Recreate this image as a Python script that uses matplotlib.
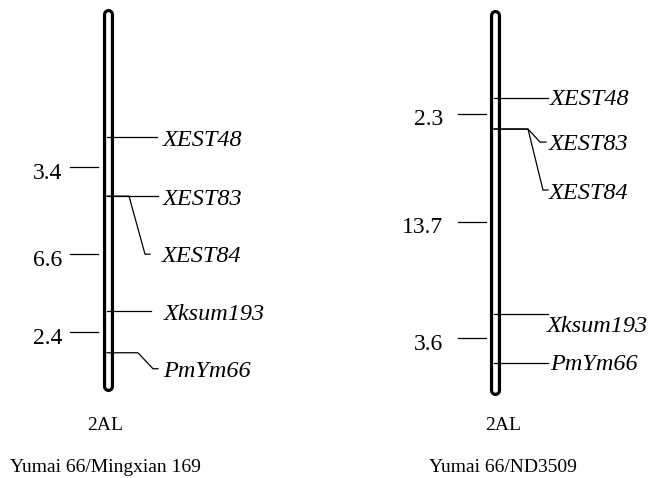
import matplotlib.pyplot as plt
import numpy as np

plt.rcParams['font.family'] = ['Liberation Serif', 'DejaVu Serif']

# linkage groups, marker order top -> bottom and intervals in cM
markers_1 = ['XEST48', 'XEST83', 'XEST84', 'Xksum193', 'PmYm66']
intervals_1 = [3.4, 0.0, 6.6, 2.4]
markers_2 = ['XEST48', 'XEST83', 'XEST84', 'Xksum193', 'PmYm66']
intervals_2 = [2.3, 0.0, 13.7, 3.6]
chrom_name = '2AL'
populations = ['Yumai 66/Mingxian 169', 'Yumai 66/ND3509']

W, H = 652, 478

# layout in pixels (x and offsets), scale = px per cM
layout_1 = dict(x0=0, origin=137, scale=17.4, cx=108, top_pad=123.5, bot_pad=33.7,
                tick=(70, 98), dist_x=62, dist_dy=7, cap_x=105,
                conn=[(157, 157, 157, 0, 163, 3),
                      (158, 158, 158, 0, 163, 3),
                      (129, 145, 150, 58, 162, 2),
                      (151, 151, 151, 0, 164, 3),
                      (138, 153, 158, 16, 163, 3)])
layout_2 = dict(x0=326, origin=98, scale=13.5, cx=495, top_pad=82.5, bot_pad=26.9,
                tick=(458, 486), dist_x=443, dist_dy=6, cap_x=503,
                conn=[(548, 548, 548, 0, 550, 2),
                      (528, 540, 546, 13, 549, 2),
                      (528, 543, 548, 61, 549, 3),
                      (548, 548, 548, 0, 547, 13),
                      (548, 548, 548, 0, 550, 2)])


def draw_map(ax, markers, intervals, lay, pop):
    pos = np.concatenate([[0.0], np.cumsum(intervals)])
    s = lay['scale']
    ax.set_xlim(lay['x0'], lay['x0'] + W / 2)
    ax.set_ylim((H - lay['origin']) / s, -lay['origin'] / s)
    ax.axis('off')

    # chromosome outline (black capsule with white core)
    cy = [pos[0] - lay['top_pad'] / s, pos[-1] + lay['bot_pad'] / s]
    cx = lay['cx']
    ax.plot([cx, cx], cy, color='black', lw=8.0, solid_capstyle='round')
    ax.plot([cx, cx], cy, color='white', lw=3.4, solid_capstyle='round')

    # markers on the right
    for name, y, (xb, xd, xe, ldy, lx, tdy) in zip(markers, pos, lay['conn']):
        ly = y + ldy / s
        ax.plot([cx - 1, xb, xd, xe], [y, y, ly, ly], color='black', lw=0.9)
        ax.text(lx, ly + tdy / s, name, style='italic', fontsize=17.5,
                ha='left', va='center')

    # interval distances on the left
    for a, b, d in zip(pos[:-1], pos[1:], intervals):
        if d == 0:
            continue
        m = (a + b) / 2
        ax.plot(lay['tick'], [m, m], color='black', lw=0.9)
        ax.text(lay['dist_x'], m + lay['dist_dy'] / s, f'{d:.1f}', fontsize=17,
                ha='right', va='center')

    fig.text(lay['cap_x'] / W, 1 - 425 / H, chrom_name, fontsize=14,
             ha='center', va='center')
    fig.text(lay['cap_x'] / W, 1 - 467 / H, pop, fontsize=14,
             ha='center', va='center')


fig = plt.figure(figsize=(W / 100, H / 100), dpi=100)
ax1 = fig.add_axes([0, 0, 0.5, 1])
ax2 = fig.add_axes([0.5, 0, 0.5, 1])
draw_map(ax1, markers_1, intervals_1, layout_1, populations[0])
draw_map(ax2, markers_2, intervals_2, layout_2, populations[1])

fig.savefig('out.png', dpi=100)
